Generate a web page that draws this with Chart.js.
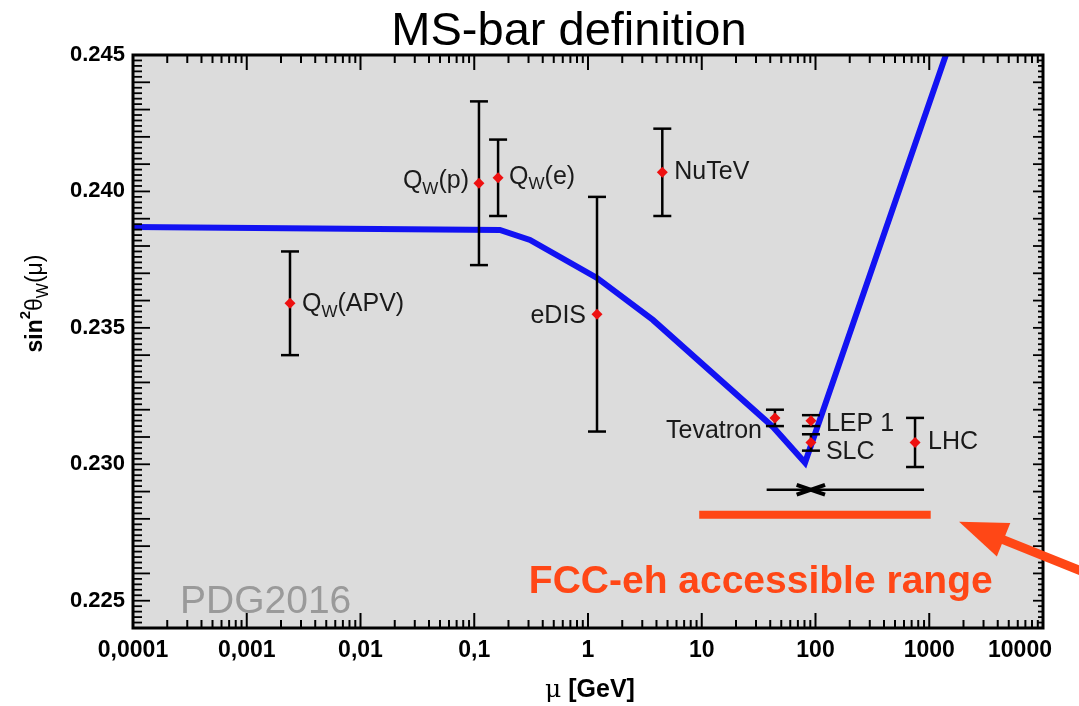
<!DOCTYPE html>
<html>
<head>
<meta charset="utf-8">
<script src="https://cdn.jsdelivr.net/npm/chart.js@4.4.1/dist/chart.umd.min.js"></script>
<style>
  body { margin: 0; background: #fff; }
  #marco { width: 1079px; height: 706px; }
</style>
</head>
<body>
<div id="marco"><canvas id="grafica"></canvas></div>
<script>
// ticks de los ejes
const xTicks = [0.0001, 0.001, 0.01, 0.1, 1, 10, 100, 1000, 10000]
const xTickLabels = ['0,0001', '0,001', '0,01', '0,1', '1', '10', '100', '1000', '10000']
const yTicks = [0.225, 0.230, 0.235, 0.240, 0.245]

// medidas de sin^2 theta_W
const experimentos = ['Q_W(APV)', 'Q_W(p)', 'Q_W(e)', 'NuTeV', 'eDIS', 'Tevatron', 'LEP 1', 'SLC', 'LHC']
const escalaMu = [0.0024, 0.110, 0.162, 4.5, 1.2, 44, 91.2, 91.2, 750]
const valorSin2 = [0.2359, 0.2403, 0.2405, 0.2407, 0.2355, 0.2317, 0.2316, 0.2308, 0.2308]
const errorSup = [0.0019, 0.0030, 0.0014, 0.0016, 0.0043, 0.0003, 0.0002, 0.0003, 0.0009]
const errorInf = [0.0019, 0.0030, 0.0014, 0.0016, 0.0043, 0.0003, 0.0002, 0.0003, 0.0009]

// curva de running
const curvaMu = [0.0001, 0.168, 0.309, 1.2, 3.72, 42.3, 80.9, 1600]
const curvaSin2 = [0.2387, 0.23859, 0.23822, 0.23683, 0.23529, 0.23137, 0.23006, 0.2457]

// rango medido (linea negra) y rango FCC-eh (linea naranja)
const rangoMedidoMu = [37.2, 900]
const rangoMedidoSin2 = 0.22907
const centroMedidoMu = 91
const rangoFCCMu = [9.5, 1030]
const rangoFCCSin2 = 0.22815

// posicion de textos y flecha (en unidades de los ejes)
const textoFCC = { mu: 33, sin2: 0.2253 }
const flechaPunta = { mu: 1828, sin2: 0.22789 }
const flechaCola = { mu: 31700, sin2: 0.22581 }

// desplazamiento de cada etiqueta respecto a su punto
const etiquetaPos = [
    { dx: 12, dy: 1, align: 'left' },
    { dx: -10, dy: -2, align: 'right' },
    { dx: 11, dy: -1, align: 'left' },
    { dx: 12, dy: 0, align: 'left' },
    { dx: -11, dy: 2, align: 'right' },
    { dx: -13, dy: 13, align: 'right' },
    { dx: 15, dy: 3, align: 'left' },
    { dx: 15, dy: 10, align: 'left' },
    { dx: 13, dy: 0, align: 'left' }
]

const NARANJA = '#ff4716'
const FUENTE = '"Liberation Sans", Arial, sans-serif'

const dibujarTexto = (ctx, partes, x, y, align) => {
    let ancho = 0
    partes.forEach(p => {
        ctx.font = p.font
        p.w = ctx.measureText(p.t).width
        ancho += p.w
    })
    let cx = align === 'right' ? x - ancho : align === 'center' ? x - ancho / 2 : x
    ctx.textAlign = 'left'
    partes.forEach(p => {
        ctx.font = p.font
        ctx.fillText(p.t, cx, y + (p.dy || 0))
        cx += p.w
    })
}

// "Q_W(e)" -> Q, W en subindice, (e)
const partesEtiqueta = texto => texto.split(/(_\w)/).filter(s => s).map(s =>
    s[0] === '_'
        ? { t: s[1], font: `17px ${FUENTE}`, dy: 8 }
        : { t: s, font: `25px ${FUENTE}`, dy: 0 })

const linea = (ctx, x1, y1, x2, y2) => {
    ctx.beginPath()
    ctx.moveTo(x1, y1)
    ctx.lineTo(x2, y2)
    ctx.stroke()
}

const adornos = {
    id: 'adornos',
    beforeDraw(chart) {
        const { ctx, chartArea: a } = chart
        ctx.save()
        ctx.fillStyle = '#dcdcdc'
        ctx.fillRect(a.left, a.top, a.right - a.left, a.bottom - a.top)
        ctx.restore()
    },
    afterDatasetDraw(chart, args) {
        // barras de error encima de la curva y debajo de los puntos
        if (args.index !== 4) return
        const { ctx, scales: { x, y } } = chart
        ctx.save()
        ctx.strokeStyle = '#000'
        ctx.lineWidth = 2.5
        escalaMu.forEach((mu, i) => {
            const px = x.getPixelForValue(mu)
            const arriba = y.getPixelForValue(valorSin2[i] + errorSup[i])
            const abajo = y.getPixelForValue(valorSin2[i] - errorInf[i])
            linea(ctx, px, arriba, px, abajo)
            linea(ctx, px - 9, arriba, px + 9, arriba)
            linea(ctx, px - 9, abajo, px + 9, abajo)
        })
        ctx.restore()
    },
    afterDraw(chart) {
        const { ctx, chartArea: a, scales: { x, y } } = chart
        ctx.save()

        // marcas hacia dentro en los cuatro lados
        ctx.strokeStyle = '#000'
        ctx.lineWidth = 2
        for (let d = -4; d < 4; d++) {
            for (let k = 1; k <= 9; k++) {
                const px = x.getPixelForValue(k * Math.pow(10, d))
                const largo = k === 1 ? 15 : 8
                linea(ctx, px, a.bottom, px, a.bottom - largo)
                linea(ctx, px, a.top, px, a.top + largo)
            }
        }
        ctx.lineWidth = 1.8
        for (let i = 1120; i <= 1225; i++) {
            const py = y.getPixelForValue(i * 0.0002)
            const medio = i % 5 === 0
            linea(ctx, a.left, py, a.left + (medio ? 17 : 9), py)
            linea(ctx, a.right, py, a.right - (medio ? 10 : 5), py)
        }
        ctx.lineWidth = 3
        ctx.strokeRect(a.left, a.top, a.right - a.left, a.bottom - a.top)

        // etiquetas de los experimentos
        ctx.fillStyle = '#1a1a1a'
        ctx.textBaseline = 'middle'
        experimentos.forEach((nombre, i) => {
            const pos = etiquetaPos[i]
            const px = x.getPixelForValue(escalaMu[i]) + pos.dx
            const py = y.getPixelForValue(valorSin2[i]) + pos.dy
            dibujarTexto(ctx, partesEtiqueta(nombre), px, py, pos.align)
        })

        // PDG2016
        ctx.textBaseline = 'alphabetic'
        ctx.fillStyle = '#9a9a9a'
        ctx.font = `39px ${FUENTE}`
        ctx.textAlign = 'left'
        ctx.fillText('PDG2016', a.left + 47, a.bottom - 15)

        // texto FCC-eh
        ctx.fillStyle = NARANJA
        ctx.font = `bold 39px ${FUENTE}`
        ctx.textAlign = 'center'
        ctx.fillText('FCC-eh accessible range', x.getPixelForValue(textoFCC.mu), y.getPixelForValue(textoFCC.sin2))

        // flecha
        const tx = x.getPixelForValue(flechaPunta.mu)
        const ty = y.getPixelForValue(flechaPunta.sin2)
        const cx = x.getPixelForValue(flechaCola.mu)
        const cy = y.getPixelForValue(flechaCola.sin2)
        const ang = Math.atan2(cy - ty, cx - tx)
        const ux = Math.cos(ang), uy = Math.sin(ang)
        ctx.strokeStyle = NARANJA
        ctx.lineWidth = 9
        linea(ctx, tx + ux * 40, ty + uy * 40, cx, cy)
        ctx.beginPath()
        ctx.moveTo(tx, ty)
        ctx.lineTo(tx + ux * 48 - uy * 18, ty + uy * 48 + ux * 18)
        ctx.lineTo(tx + ux * 48 + uy * 18, ty + uy * 48 - ux * 18)
        ctx.closePath()
        ctx.fill()

        // titulo
        ctx.fillStyle = '#000'
        ctx.font = `47px ${FUENTE}`
        ctx.textAlign = 'center'
        ctx.fillText('MS-bar definition', 569, 45)

        // titulo eje x
        ctx.textBaseline = 'middle'
        dibujarTexto(ctx, [
            { t: 'μ', font: `25px "DejaVu Serif", serif` },
            { t: ' [GeV]', font: `bold 25px ${FUENTE}` }
        ], (a.left + a.right) / 2 + 2, 690, 'center')

        // titulo eje y
        ctx.textBaseline = 'alphabetic'
        ctx.translate(42, (a.top + a.bottom) / 2 - 38)
        ctx.rotate(-Math.PI / 2)
        dibujarTexto(ctx, [
            { t: 'sin', font: `bold 23px ${FUENTE}` },
            { t: '2', font: `bold 15px ${FUENTE}`, dy: -12 },
            { t: 'θ', font: `23px ${FUENTE}` },
            { t: 'W', font: `16px ${FUENTE}`, dy: 6 },
            { t: '(μ)', font: `23px ${FUENTE}` }
        ], 0, 0, 'center')

        ctx.restore()
    }
}

const puntos = escalaMu.map((mu, i) => ({ x: mu, y: valorSin2[i] }))
const curva = curvaMu.map((mu, i) => ({ x: mu, y: curvaSin2[i] }))

new Chart(document.querySelector('#grafica'), {
    type: 'scatter',
    data: {
        datasets: [
            {
                label: 'medidas',
                data: puntos,
                pointStyle: 'rectRot',
                pointRadius: 5.5,
                backgroundColor: '#ee1111',
                borderWidth: 0
            },
            {
                label: 'centro',
                data: [{ x: centroMedidoMu, y: rangoMedidoSin2 }, { x: centroMedidoMu, y: rangoMedidoSin2 }],
                pointStyle: 'line',
                pointRotation: [19, -19],
                pointRadius: 15,
                borderColor: '#000',
                pointBorderWidth: 4
            },
            {
                label: 'rango medido',
                data: rangoMedidoMu.map(mu => ({ x: mu, y: rangoMedidoSin2 })),
                showLine: true,
                borderColor: '#000',
                borderWidth: 2.5,
                pointRadius: 0
            },
            {
                label: 'FCC-eh',
                data: rangoFCCMu.map(mu => ({ x: mu, y: rangoFCCSin2 })),
                showLine: true,
                borderColor: NARANJA,
                borderWidth: 8,
                borderCapStyle: 'butt',
                pointRadius: 0
            },
            {
                label: 'running',
                data: curva,
                showLine: true,
                borderColor: '#1212f2',
                borderWidth: 6,
                pointRadius: 0,
                tension: 0,
                clip: 0
            }
        ]
    },
    options: {
        responsive: true,
        maintainAspectRatio: false,
        animation: false,
        layout: { padding: { top: 55, right: 36, left: 0, bottom: 0 } },
        plugins: { legend: { display: false }, tooltip: { enabled: false } },
        scales: {
            x: {
                type: 'logarithmic',
                min: 0.0001,
                max: 10000,
                afterBuildTicks: s => { s.ticks = xTicks.map(v => ({ value: v })) },
                afterFit: s => {
                    s.height = 78
                    s.paddingLeft = 0
                    s.paddingRight = 0
                },
                grid: { display: false, drawTicks: false },
                border: { display: false },
                ticks: {
                    autoSkip: false,
                    maxRotation: 0,
                    padding: 9,
                    color: '#000',
                    font: { family: 'Liberation Sans', size: 23, weight: 'bold' },
                    // el ultimo rotulo se corre a la izquierda para no salirse
                    callback: (v, i) => i === xTickLabels.length - 1 ? xTickLabels[i] + '\u2002\u2002\u2002\u2002' : xTickLabels[i]
                }
            },
            y: {
                min: 0.224,
                max: 0.245,
                afterBuildTicks: s => { s.ticks = yTicks.map(v => ({ value: v })) },
                afterFit: s => {
                    s.width = 133
                    s.paddingTop = 0
                    s.paddingBottom = 0
                },
                grid: { display: false, drawTicks: false },
                border: { display: false },
                ticks: {
                    padding: 8,
                    color: '#000',
                    font: { family: 'Liberation Sans', size: 22, weight: 'bold' },
                    callback: v => v.toFixed(3)
                }
            }
        }
    },
    plugins: [adornos]
})
</script>
</body>
</html>
